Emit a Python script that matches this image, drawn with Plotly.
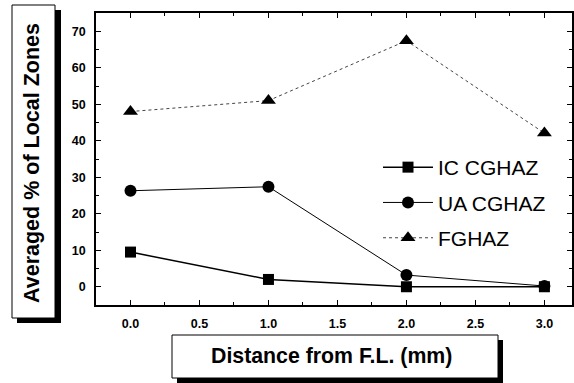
import plotly.graph_objects as go

distance = [0.0, 1.0, 2.0, 3.0]
ic_cghaz = [9.5, 2.0, 0.0, 0.0]
ua_cghaz = [26.3, 27.4, 3.2, 0.2]
fghaz = [48.0, 51.0, 67.4, 42.1]

x_ticks = [0.0, 0.5, 1.0, 1.5, 2.0, 2.5, 3.0]
y_ticks = [0, 10, 20, 30, 40, 50, 60, 70]

W, H = 574, 383
L, R, T, B = 96, 2, 13, 78
PW, PH = W - L - R, H - T - B

def px(x):
    return (x - L) / PW

def py(y):
    return (H - B - y) / PH

FONT = "Liberation Sans, Arial, sans-serif"

fig = go.Figure()
fig.add_trace(go.Scatter(
    x=distance, y=ic_cghaz, name="IC CGHAZ", mode="lines+markers",
    line=dict(color="black", width=1.5),
    marker=dict(symbol="square", size=11, color="black"),
    legendgroup="a"))
fig.add_trace(go.Scatter(
    x=distance, y=ua_cghaz, name="UA CGHAZ", mode="lines+markers",
    line=dict(color="black", width=1),
    marker=dict(symbol="circle", size=12, color="black"),
    legendgroup="b"))
fig.add_trace(go.Scatter(
    x=distance, y=fghaz, name="FGHAZ", mode="lines+markers",
    line=dict(color="#444", width=1, dash="dot"),
    marker=dict(symbol="triangle-up", size=13, color="black"),
    legendgroup="c"))

# title boxes with shadows
shapes = [
    dict(type="rect", xref="paper", yref="paper", x0=px(17), x1=px(61), y0=py(323), y1=py(10),
         fillcolor="black", line=dict(width=0), layer="below"),
    dict(type="rect", xref="paper", yref="paper", x0=px(12), x1=px(55), y0=py(318), y1=py(5),
         fillcolor="white", line=dict(color="black", width=1), layer="below"),
    dict(type="rect", xref="paper", yref="paper", x0=px(177), x1=px(503), y0=py(390), y1=py(340),
         fillcolor="black", line=dict(width=0), layer="below"),
    dict(type="rect", xref="paper", yref="paper", x0=px(172), x1=px(498), y0=py(378), y1=py(335),
         fillcolor="white", line=dict(color="black", width=1), layer="below"),
]

annotations = [
    dict(text="<b>Averaged % of Local Zones</b>", xref="paper", yref="paper", x=px(32), y=py(163),
         textangle=-90, showarrow=False, font=dict(family=FONT, size=21.5, color="black"),
         xanchor="center", yanchor="middle"),
    dict(text="<b>Distance from F.L. (mm)</b>", xref="paper", yref="paper", x=px(331), y=py(356),
         showarrow=False, font=dict(family=FONT, size=21.3, color="black"),
         xanchor="center", yanchor="middle"),
]

axis_common = dict(
    showline=True, linecolor="black", linewidth=1.5, mirror="allticks",
    ticks="inside", ticklen=5, tickwidth=1.2, tickcolor="black",
    showgrid=False, zeroline=False, automargin=False,
    tickfont=dict(family=FONT, size=12.5, color="black", weight="bold"),
)

fig.update_layout(
    width=W, height=H,
    margin=dict(l=L, r=R, t=T, b=B, autoexpand=False),
    paper_bgcolor="white", plot_bgcolor="white",
    shapes=shapes, annotations=annotations,
    showlegend=True,
    legend=dict(x=px(378), y=py(147), xanchor="left", yanchor="top",
                bgcolor="rgba(0,0,0,0)", tracegroupgap=5, itemwidth=50,
                font=dict(family=FONT, size=21, color="black")),
    xaxis=dict(range=[-0.25, 3.2], tickvals=x_ticks, ticktext=[f"{v:.1f}" for v in x_ticks],
               minor=dict(ticks="inside", ticklen=3, dtick=0.25, tickcolor="black", tickwidth=1),
               ticklabelstandoff=6, **axis_common),
    yaxis=dict(range=[-5, 75], tickvals=y_ticks,
               minor=dict(ticks="inside", ticklen=3, dtick=5, tickcolor="black", tickwidth=1),
               ticklabelstandoff=6, **axis_common),
)

fig.write_html("out.html", config={"displayModeBar": False},
               post_script="document.body.style.margin='0';document.body.style.overflow='hidden';")
